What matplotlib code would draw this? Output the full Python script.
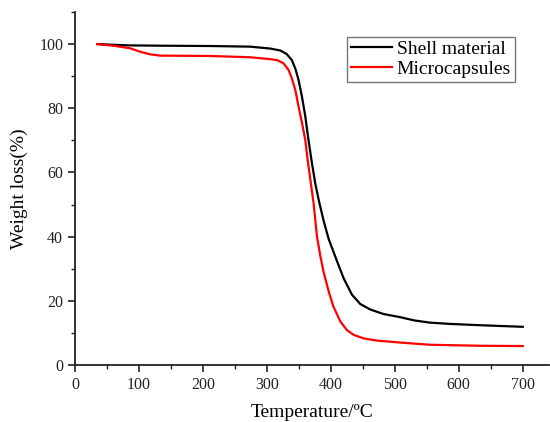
import matplotlib
matplotlib.use("Agg")
import matplotlib.pyplot as plt
from matplotlib.ticker import MultipleLocator

plt.rcParams['font.family'] = ['Liberation Serif', 'DejaVu Serif']

shell_T = [35, 82, 133, 211, 274, 305.5, 321, 331, 339, 344.4, 349.5, 354.8, 360, 365, 370.5,
           375.6, 381, 388.6, 396.5, 409.5, 420, 433, 446, 461.6, 482, 508.5, 530, 555, 586.7,
           633, 700]
shell_W = [100, 99.6, 99.5, 99.4, 99.2, 98.6, 98.0, 96.9, 95.0, 92.4, 88.8, 83.6, 77.5, 70.1, 62.8,
           56.6, 51.4, 45.0, 39.3, 32.4, 27.0, 21.9, 19.0, 17.3, 15.9, 14.9, 13.9, 13.2, 12.8,
           12.4, 11.9]

micro_T = [35, 60, 86, 102, 118, 133, 211, 274, 305.5, 316, 326, 334, 339, 344.4, 349.5, 355,
           360, 363.7, 368, 373, 378.3, 383.5, 388.6, 396.5, 404, 414.7, 425, 435.5, 451, 472,
           508.5, 555, 633, 700]
micro_W = [100, 99.5, 98.7, 97.6, 96.8, 96.4, 96.3, 95.9, 95.3, 95.0, 94.0, 91.9, 89.3, 85.7, 80.5, 75.3,
           70.1, 63.9, 57.6, 50.4, 40.0, 34.0, 29.0, 23.0, 18.2, 13.6, 10.9, 9.4, 8.3, 7.6,
           7.0, 6.3, 6.0, 5.9]

fig = plt.figure(figsize=(5.5, 4.22), dpi=100)
ax = fig.add_axes([75/550, 57/422, 474/550, 353/422])

ax.plot(shell_T, shell_W, color='black', lw=1.6, label='Shell material', solid_joinstyle='round')
ax.plot(micro_T, micro_W, color='#ff0000', lw=1.6, label='Microcapsules', solid_joinstyle='round')

ax.set_xlim(0, 741)
ax.set_ylim(0, 110)
ax.xaxis.set_major_locator(MultipleLocator(100))
ax.xaxis.set_minor_locator(MultipleLocator(50))
ax.yaxis.set_major_locator(MultipleLocator(20))
ax.yaxis.set_minor_locator(MultipleLocator(10))

for s in ['top', 'right']:
    ax.spines[s].set_visible(False)
for s in ['left', 'bottom']:
    ax.spines[s].set_linewidth(1.3)
    ax.spines[s].set_color('#222222')

ax.tick_params(which='major', direction='out', length=5, width=1.2, labelsize=11.5, colors='#222222')
ax.tick_params(which='minor', direction='out', length=3, width=1.0, colors='#222222')

ax.set_xlabel('Temperature/ºC', fontsize=14, labelpad=8)
ax.set_ylabel('Weight loss(%)', fontsize=14, labelpad=8)

leg = ax.legend(loc='upper right', bbox_to_anchor=(0.928, 0.930), borderaxespad=0,
                fontsize=14, frameon=True, fancybox=False, handlelength=2.1,
                handletextpad=0.25, borderpad=0.2, labelspacing=0.1)
leg.get_frame().set_edgecolor('#555555')
leg.get_frame().set_linewidth(1.0)

fig.savefig('out.png', dpi=100)
